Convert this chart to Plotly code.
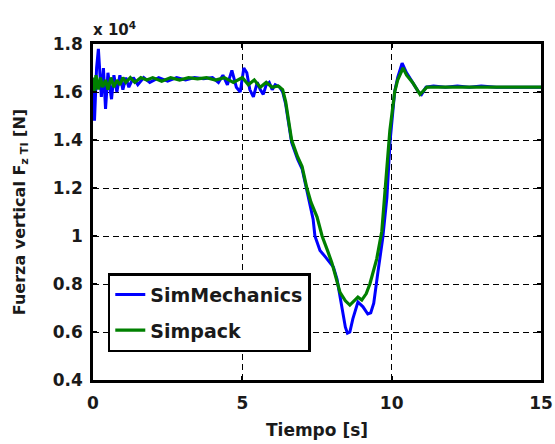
import plotly.graph_objects as go

# Time [s] and vertical force (x 10^4 N)
t_simmech = [0.00, 0.05, 0.12, 0.18, 0.28, 0.35, 0.42, 0.50, 0.62, 0.70, 0.80, 0.90, 1.00, 1.10, 1.20,
             1.35, 1.50, 1.70, 1.90, 2.20, 2.50, 2.80, 3.10, 3.40, 3.70, 4.00, 4.20, 4.35, 4.50, 4.65,
             4.80, 4.93, 5.05, 5.15, 5.25, 5.37, 5.50, 5.60, 5.70, 5.80, 5.90, 6.00, 6.10, 6.25, 6.35,
             6.45, 6.55, 6.65, 6.85, 7.00, 7.16, 7.30, 7.37, 7.43, 7.60, 7.80, 7.95, 8.05, 8.17, 8.33,
             8.45, 8.52, 8.60, 8.70, 8.87, 9.04, 9.20, 9.30, 9.40, 9.54, 9.70, 9.84, 9.95, 10.10, 10.20,
             10.35, 10.50, 10.70, 10.90, 11.00, 11.15, 11.40, 11.80, 12.20, 12.60, 13.00, 13.50, 15.00]
f_simmech = [1.62, 1.48, 1.70, 1.78, 1.58, 1.70, 1.53, 1.68, 1.57, 1.67, 1.60, 1.67, 1.61, 1.66, 1.62,
             1.66, 1.63, 1.66, 1.64, 1.66, 1.645, 1.66, 1.65, 1.66, 1.655, 1.66, 1.64, 1.67, 1.63, 1.69,
             1.62, 1.60, 1.70, 1.68, 1.61, 1.58, 1.64, 1.61, 1.59, 1.63, 1.64, 1.61, 1.63, 1.62, 1.60,
             1.55, 1.47, 1.39, 1.32, 1.28, 1.19, 1.11, 1.07, 1.00, 0.94, 0.91, 0.885, 0.87, 0.82, 0.70,
             0.62, 0.595, 0.60, 0.655, 0.725, 0.705, 0.675, 0.68, 0.72, 0.85, 0.99, 1.16, 1.40, 1.60, 1.66,
             1.72, 1.68, 1.64, 1.60, 1.59, 1.62, 1.625, 1.62, 1.625, 1.62, 1.625, 1.62, 1.62]

t_simpack = [0.00, 0.05, 0.10, 0.18, 0.25, 0.32, 0.42, 0.50, 0.60, 0.70, 0.80, 0.90, 1.00, 1.10, 1.25,
             1.40, 1.60, 1.80, 2.00, 2.30, 2.60, 2.90, 3.20, 3.50, 3.80, 4.10, 4.40, 4.70, 5.00, 5.20,
             5.40, 5.60, 5.80, 6.00, 6.20, 6.35, 6.45, 6.55, 6.65, 6.85, 7.00, 7.16, 7.30, 7.50, 7.67,
             7.85, 8.00, 8.27, 8.45, 8.60, 8.75, 8.87, 9.00, 9.15, 9.27, 9.40, 9.50, 9.67, 9.80, 9.94,
             10.10, 10.20, 10.38, 10.50, 10.70, 10.95, 11.18, 11.50, 15.00]
f_simpack = [1.66, 1.60, 1.67, 1.61, 1.66, 1.62, 1.65, 1.61, 1.66, 1.62, 1.65, 1.63, 1.66, 1.64, 1.66,
             1.64, 1.66, 1.65, 1.66, 1.645, 1.66, 1.65, 1.66, 1.655, 1.66, 1.65, 1.66, 1.64, 1.66, 1.63,
             1.65, 1.62, 1.64, 1.62, 1.625, 1.61, 1.56, 1.48, 1.40, 1.33, 1.29, 1.20, 1.14, 1.08, 1.00,
             0.94, 0.888, 0.765, 0.73, 0.712, 0.73, 0.745, 0.733, 0.76, 0.80, 0.86, 0.905, 1.02, 1.23, 1.44,
             1.60, 1.65, 1.70, 1.67, 1.64, 1.59, 1.62, 1.62, 1.62]

x_ticks = [0, 5, 10, 15]
y_ticks = [0.4, 0.6, 0.8, 1.0, 1.2, 1.4, 1.6, 1.8]
y_ticklabels = ["0.4", "0.6", "0.8", "1", "1.2", "1.4", "1.6", "1.8"]

FONT = "DejaVu Sans, sans-serif"
TXT = "#1a1a1a"

fig = go.Figure()
fig.add_trace(go.Scatter(x=t_simmech, y=f_simmech, mode="lines", name="SimMechanics",
                         legendgroup="a", line=dict(color="#0000FF", width=3)))
fig.add_trace(go.Scatter(x=t_simpack, y=f_simpack, mode="lines", name="Simpack",
                         legendgroup="b", line=dict(color="#008000", width=3.2)))

axis_common = dict(
    showline=True, linecolor="black", linewidth=2.5, mirror="ticks",
    ticks="inside", ticklen=4, tickwidth=2, tickcolor="black",
    showgrid=True, gridcolor="black", griddash="6px,4px", gridwidth=1.2,
    zeroline=False, automargin=False,
    tickfont=dict(family=FONT, size=17, color=TXT, weight="bold"),
)

fig.update_xaxes(range=[0, 15], tickvals=x_ticks, ticklabelstandoff=6, **axis_common,
                 title=dict(text="Tiempo [s]", font=dict(family=FONT, size=17, color=TXT, weight="bold"),
                            standoff=12))
fig.update_yaxes(range=[0.4, 1.8], tickvals=y_ticks, ticktext=y_ticklabels, ticklabelstandoff=4,
                 **axis_common,
                 title=dict(text="Fuerza vertical F<sub>z TI</sub> [N]",
                            font=dict(family=FONT, size=16, color=TXT, weight="bold"),
                            standoff=24))

fig.add_annotation(x=0, y=1, xref="paper", yref="paper", xanchor="left", yanchor="bottom",
                   text="x 10<sup>4</sup>", showarrow=False, yshift=3, xshift=-2,
                   font=dict(family=FONT, size=15, color=TXT, weight="bold"))

fig.update_layout(
    width=555, height=444,
    margin=dict(l=93, r=14, t=44, b=64),
    paper_bgcolor="white", plot_bgcolor="white",
    showlegend=True,
    legend=dict(x=0.033, y=0.318, xanchor="left", yanchor="top",
                bgcolor="white", bordercolor="black", borderwidth=2.5,
                font=dict(family=FONT, size=19, color=TXT, weight="bold"),
                itemwidth=30, tracegroupgap=8),
)

fig.write_html("out.html")
